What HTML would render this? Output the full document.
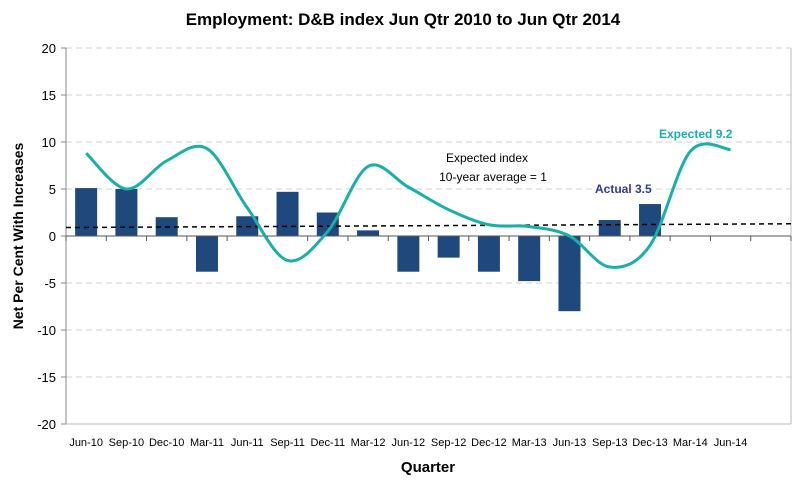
<!DOCTYPE html>
<html><head><meta charset="utf-8"><style>
body{margin:0;background:#fff;}
svg{display:block;font-family:"Liberation Sans",Arial,sans-serif;}
</style></head><body>
<svg width="807" height="484" id="chart">
<text x="403" y="25" text-anchor="middle" font-size="17" font-weight="bold" fill="#000">Employment: D&amp;B index Jun Qtr 2010 to Jun Qtr 2014</text>
<g id="grid"></g><g id="bars"></g><g id="axes"></g><g id="line"></g>
<text x="23" y="236" transform="rotate(-90 23 236)" text-anchor="middle" font-size="14" font-weight="bold">Net Per Cent With Increases</text>
<text x="428" y="472" text-anchor="middle" font-size="15" font-weight="bold">Quarter</text>
<text x="487" y="162" text-anchor="middle" font-size="12">Expected index</text>
<text x="493" y="181" text-anchor="middle" font-size="12">10-year average = 1</text>
<text x="595" y="193" font-size="12" font-weight="bold" fill="#2e3f8f">Actual 3.5</text>
<text x="659" y="138" font-size="12" font-weight="bold" fill="#1aafa8">Expected 9.2</text>
</svg>
<script>
const categories=["Jun-10","Sep-10","Dec-10","Mar-11","Jun-11","Sep-11","Dec-11","Mar-12","Jun-12","Sep-12","Dec-12","Mar-13","Jun-13","Sep-13","Dec-13","Mar-14","Jun-14"];
const actual=[5.1,5.0,2.0,-3.8,2.1,4.7,2.5,0.6,-3.8,-2.3,-3.8,-4.8,-8.0,1.7,3.4];
const expected=[8.8,5.0,8.0,9.3,3.0,-2.6,0.5,7.4,5.2,2.8,1.2,1.0,0.0,-3.3,-1.0,9.0,9.2];
const yTicks=[20,15,10,5,0,-5,-10,-15,-20];
const avgStart=0.9, avgEnd=1.3;
const NS="http://www.w3.org/2000/svg";
const L=66,R=791,T=48,B=424,nSlots=18,slot=(R-L)/nSlots;
const x=i=>L+slot*(i+0.5);
const y=v=>T+(20-v)*(B-T)/40;
function mk(tag,attrs,parent){const e=document.createElementNS(NS,tag);for(const k in attrs)e.setAttribute(k,attrs[k]);document.getElementById(parent).appendChild(e);return e;}
yTicks.forEach(t=>{
  if(t!==-20&&t!==0){const g=mk('line',{x1:L,x2:R,y1:y(t),y2:y(t),stroke:'#d0d0d0','stroke-dasharray':'6,4'},'grid');
  
  }
  const tx=mk('text',{x:L-10,y:y(t)+5,'text-anchor':'end','font-size':13},'axes');tx.textContent=t;
  
  
  mk('line',{x1:L-5,x2:L,y1:y(t),y2:y(t),stroke:'#888'},'axes');
});
mk('line',{x1:L,x2:L,y1:T,y2:B,stroke:'#888'},'axes');
mk('line',{x1:R,x2:R,y1:T,y2:B,stroke:'#bbb'},'axes');
mk('line',{x1:L,x2:R,y1:B,y2:B,stroke:'#bbb'},'axes');
mk('line',{x1:L,x2:R,y1:y(0),y2:y(0),stroke:'#555'},'axes');
for(let i=0;i<=nSlots;i++)mk('line',{x1:L+slot*i,x2:L+slot*i,y1:y(0),y2:y(0)+5,stroke:'#555'},'axes');
categories.forEach((c,i)=>{const t=mk('text',{x:x(i),y:446,'text-anchor':'middle','font-size':11},'axes');t.textContent=c;
  
  });
actual.forEach((v,i)=>{const b=mk('rect',{x:x(i)-11,width:22,y:Math.min(y(v),y(0)),height:Math.abs(y(v)-y(0)),fill:'#1f497d'},'bars');
  
  });
const av=mk('line',{x1:L,x2:R,y1:y(avgStart),y2:y(avgEnd),stroke:'#000','stroke-width':1.5,'stroke-dasharray':'5,4'},'line');


const P=expected.map((v,i)=>[x(i),y(v)]);
let d=`M${P[0][0]},${P[0][1]}`;
for(let i=0;i<P.length-1;i++){const p0=P[i-1]||P[i],p1=P[i],p2=P[i+1],p3=P[i+2]||P[i+1];
  d+=` C${p1[0]+(p2[0]-p0[0])/6},${p1[1]+(p2[1]-p0[1])/6} ${p2[0]-(p3[0]-p1[0])/6},${p2[1]-(p3[1]-p1[1])/6} ${p2[0]},${p2[1]}`;}
const ln=mk('path',{d:d,fill:'none',stroke:'#1aafa8','stroke-width':3},'line');


</script>
</body></html>
